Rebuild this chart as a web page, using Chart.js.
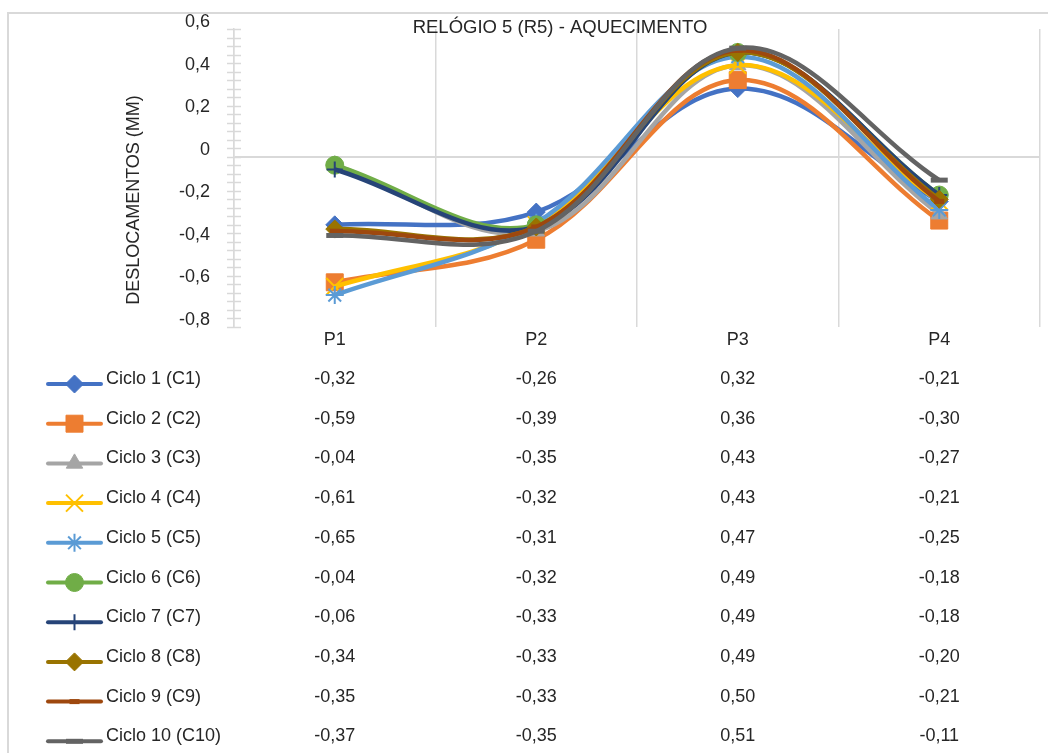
<!DOCTYPE html>
<html>
<head>
<meta charset="utf-8">
<script src="https://cdn.jsdelivr.net/npm/chart.js@4.4.1/dist/chart.umd.min.js"></script>
<style>
  html, body { margin: 0; padding: 0; background: #ffffff; overflow: hidden; }
  #wrap { width: 1048px; height: 753px; position: relative; }
</style>
</head>
<body>
<div id="wrap"><canvas id="chart"></canvas></div>
<script>
// Measuring points along the gauge and the displacement of each heating cycle (mm)
const categories = ['P1', 'P2', 'P3', 'P4'];
const seriesNames = ['Ciclo 1 (C1)', 'Ciclo 2 (C2)', 'Ciclo 3 (C3)', 'Ciclo 4 (C4)', 'Ciclo 5 (C5)',
                     'Ciclo 6 (C6)', 'Ciclo 7 (C7)', 'Ciclo 8 (C8)', 'Ciclo 9 (C9)', 'Ciclo 10 (C10)'];
const c1  = [-0.32, -0.26, 0.32, -0.21];
const c2  = [-0.59, -0.39, 0.36, -0.30];
const c3  = [-0.04, -0.35, 0.43, -0.27];
const c4  = [-0.61, -0.32, 0.43, -0.21];
const c5  = [-0.65, -0.31, 0.47, -0.25];
const c6  = [-0.04, -0.32, 0.49, -0.18];
const c7  = [-0.06, -0.33, 0.49, -0.18];
const c8  = [-0.34, -0.33, 0.49, -0.20];
const c9  = [-0.35, -0.33, 0.50, -0.21];
const c10 = [-0.37, -0.35, 0.51, -0.11];
const seriesValues = [c1, c2, c3, c4, c5, c6, c7, c8, c9, c10];

const yMin = -0.8, yMax = 0.6, yStep = 0.2, yMinorStep = 0.04;
const chartTitle = 'RELÓGIO 5 (R5) - AQUECIMENTO';
const yAxisTitle = 'DESLOCAMENTOS (MM)';

const seriesColors = ['#4472C4', '#ED7D31', '#A5A5A5', '#FFC000', '#5B9BD5',
                      '#70AD47', '#264478', '#997300', '#9E480E', '#636363'];
const markerStyles = ['rectRot', 'rect', 'triangle', 'crossRot', 'star',
                      'circle', 'cross', 'rectRot', 'line', 'line'];
const markerRadii  = [9, 12, 9.5, 12, 9, 9, 8, 9, 5, 8.5];
const markerBorder = [1, 1, 1, 2, 2, 1, 2, 1, 5, 5];

const FONT = "'Liberation Sans', Arial, sans-serif";
const TEXT = '#262626';
const GRID = '#d9d9d9';

const fmt = (v, d) => {
  const r = Math.round(v * 100) / 100;
  if (r === 0) return '0';
  return r.toFixed(d).replace('.', ',');
};

const datasets = seriesValues.map((vals, i) => ({
  label: seriesNames[i],
  data: vals,
  borderColor: seriesColors[i],
  backgroundColor: seriesColors[i],
  borderWidth: 4.5,
  tension: 0.36,
  pointStyle: markerStyles[i],
  pointRadius: markerRadii[i],
  pointHoverRadius: markerRadii[i],
  pointBorderWidth: markerBorder[i],
  pointBackgroundColor: seriesColors[i],
  pointBorderColor: seriesColors[i],
  order: seriesValues.length - 1 - i,
  clip: false
}));

// Frame, title, crossing tick marks, rotated axis title and the data table under the plot
const decorations = {
  id: 'decorations',
  beforeDraw(chart) {
    const ctx = chart.ctx;
    ctx.save();
    ctx.fillStyle = '#ffffff';
    ctx.fillRect(0, 0, chart.width, chart.height);
    ctx.strokeStyle = GRID;
    ctx.lineWidth = 2;
    ctx.beginPath();
    ctx.moveTo(8, chart.height + 2);
    ctx.lineTo(8, 13);
    ctx.lineTo(chart.width + 2, 13);
    ctx.stroke();
    ctx.restore();
  },
  afterDraw(chart) {
    const ctx = chart.ctx;
    const ys = chart.scales.y;
    const xs = chart.scales.x;
    const axisX = chart.chartArea.left;
    ctx.save();

    // crossing tick marks on the value axis
    ctx.strokeStyle = GRID;
    ctx.lineWidth = 1.5;
    const n = Math.round((yMax - yMin) / yMinorStep);
    for (let k = 0; k <= n; k++) {
      const py = Math.round(ys.getPixelForValue(yMin + k * yMinorStep)) + 0.5;
      ctx.beginPath();
      ctx.moveTo(axisX - 7, py);
      ctx.lineTo(axisX + 7, py);
      ctx.stroke();
    }

    // chart title
    ctx.fillStyle = TEXT;
    ctx.font = '18.5px ' + FONT;
    ctx.textAlign = 'center';
    ctx.textBaseline = 'alphabetic';
    ctx.fillText(chartTitle, 560, 33);

    // value axis title
    ctx.save();
    ctx.translate(139, 200);
    ctx.rotate(-Math.PI / 2);
    ctx.font = '18px ' + FONT;
    ctx.fillText(yAxisTitle, 0, 0);
    ctx.restore();

    // data table
    const rowStep = 39.7;
    const firstRow = chart.chartArea.bottom + 57;
    seriesValues.forEach((vals, i) => {
      const by = firstRow + i * rowStep;
      const col = seriesColors[i];
      // legend key
      ctx.strokeStyle = col;
      ctx.lineWidth = 4;
      ctx.lineCap = 'round';
      ctx.beginPath();
      ctx.moveTo(48, by);
      ctx.lineTo(101, by);
      ctx.stroke();
      ctx.lineCap = 'butt';
      ctx.fillStyle = col;
      ctx.strokeStyle = col;
      ctx.lineWidth = markerBorder[i];
      Chart.helpers.drawPoint(ctx, {
        pointStyle: markerStyles[i],
        radius: markerRadii[i],
        rotation: 0,
        borderWidth: markerBorder[i]
      }, 74.5, by);

      ctx.fillStyle = TEXT;
      ctx.font = '18px ' + FONT;
      ctx.textAlign = 'left';
      ctx.fillText(seriesNames[i], 106, by);
      ctx.textAlign = 'center';
      vals.forEach((v, j) => {
        ctx.fillText(fmt(v, 2), xs.getPixelForValue(j), by);
      });
    });
    ctx.restore();
  }
};

new Chart(document.getElementById('chart'), {
  type: 'line',
  data: { labels: categories, datasets },
  plugins: [decorations],
  options: {
    responsive: true,
    maintainAspectRatio: false,
    animation: false,
    events: [],
    layout: { autoPadding: false, padding: { top: 29, right: 8, left: 0, bottom: 0 } },
    plugins: {
      legend: { display: false },
      title: { display: false },
      tooltip: { enabled: false }
    },
    scales: {
      x: {
        type: 'category',
        offset: true,
        grid: { display: true, offset: true, color: GRID, lineWidth: 1.5, drawTicks: false },
        border: { display: false },
        ticks: {
          color: TEXT,
          padding: 2,
          font: { family: FONT, size: 18 },
          maxRotation: 0
        },
        afterFit(scale) {
          scale.height = 426;
          scale.paddingLeft = 0;
          scale.paddingRight = 0;
        }
      },
      y: {
        min: yMin,
        max: yMax,
        grid: {
          drawTicks: false,
          color: (c) => (c.tick && Math.abs(c.tick.value) < 1e-9 ? GRID : 'rgba(0,0,0,0)'),
          lineWidth: 2
        },
        border: { display: true, color: GRID, width: 1.5 },
        ticks: {
          stepSize: yStep,
          color: TEXT,
          padding: 24,
          labelOffset: -7,
          font: { family: FONT, size: 18 },
          callback: (v) => fmt(v, 1)
        },
        afterFit(scale) {
          scale.width = 234;
          scale.paddingTop = 0;
          scale.paddingBottom = 0;
        }
      }
    }
  }
});
</script>
</body>
</html>
